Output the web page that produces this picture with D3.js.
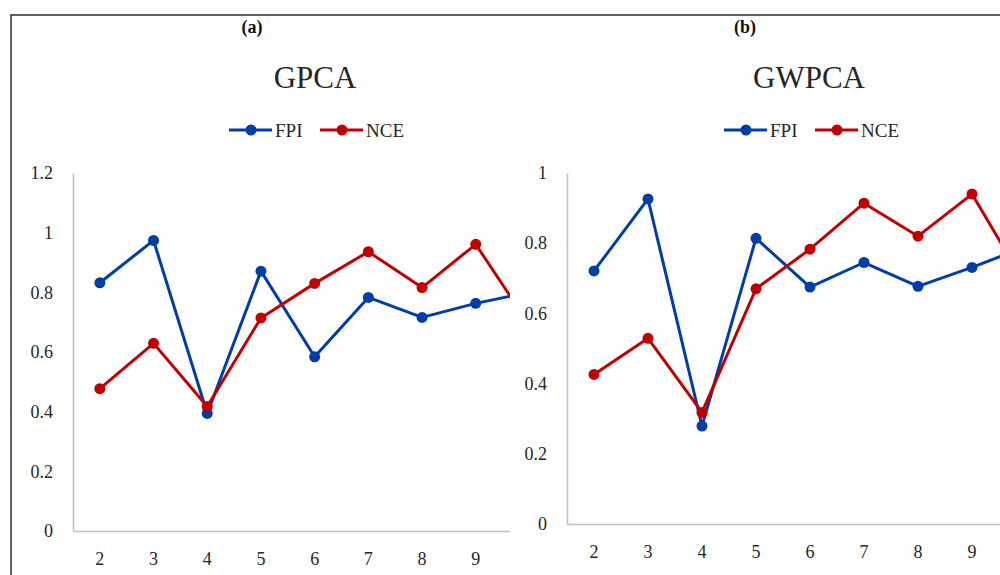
<!DOCTYPE html>
<html>
<head>
<meta charset="utf-8">
<script src="https://cdn.jsdelivr.net/npm/d3@7"></script>
<style>
  html, body { margin: 0; padding: 0; background: #fff; }
  svg { display: block; }
  text { font-family: "Liberation Serif", "DejaVu Serif", serif; fill: #262626; }
</style>
</head>
<body>
<svg id="chart" width="1000" height="575"></svg>
<script>
// ---- data ----
const categories = ["2", "3", "4", "5", "6", "7", "8", "9", "10"];
const seriesNames = ["FPI", "NCE"];
const gpcaFPI = [0.832, 0.974, 0.394, 0.871, 0.584, 0.783, 0.716, 0.763, 0.80];
const gpcaNCE = [0.477, 0.629, 0.417, 0.714, 0.830, 0.936, 0.816, 0.961, 0.69];
const gwpcaFPI = [0.721, 0.926, 0.279, 0.814, 0.675, 0.745, 0.677, 0.731, 0.79];
const gwpcaNCE = [0.426, 0.529, 0.318, 0.670, 0.783, 0.914, 0.820, 0.940, 0.68];
const gpcaTicks = [0, 0.2, 0.4, 0.6, 0.8, 1.0, 1.2];
const gwpcaTicks = [0, 0.2, 0.4, 0.6, 0.8, 1.0];
const panelLabels = ["(a)", "(b)"];
const panelTitles = ["GPCA", "GWPCA"];

const colors = { FPI: "#003da5", NCE: "#c00000" };

const svg = d3.select("#chart");

// outer frame
svg.append("rect")
  .attr("x", 11).attr("y", 15)
  .attr("width", 1100).attr("height", 700)
  .attr("fill", "none").attr("stroke", "#3a3a3a").attr("stroke-width", 1.6);

const panels = [
  { label: panelLabels[0], title: panelTitles[0], labelX: 252, titleX: 315, legendX: 229,
    x0: 73, step: 53.7, y0: 531, yTop: 173, yMax: 1.2, ticks: gpcaTicks,
    data: { FPI: gpcaFPI, NCE: gpcaNCE }, clip: [0, 510] },
  { label: panelLabels[1], title: panelTitles[1], labelX: 745, titleX: 809, legendX: 724,
    x0: 567, step: 54, y0: 524, yTop: 173, yMax: 1.0, ticks: gwpcaTicks,
    data: { FPI: gwpcaFPI, NCE: gwpcaNCE }, clip: [510, 1000] }
];

const fmt = v => String(+v.toFixed(1));

panels.forEach((p, i) => {
  const clipId = "clip" + i;
  svg.append("clipPath").attr("id", clipId)
    .append("rect").attr("x", p.clip[0]).attr("y", 0)
    .attr("width", p.clip[1] - p.clip[0]).attr("height", 575);

  const g = svg.append("g").attr("clip-path", `url(#${clipId})`);

  // panel label
  g.append("text").attr("x", p.labelX).attr("y", 33)
    .attr("text-anchor", "middle").attr("font-weight", "bold")
    .attr("font-size", 18).style("fill", "#111").text(p.label);

  // title
  g.append("text").attr("x", p.titleX).attr("y", 88)
    .attr("text-anchor", "middle").attr("font-size", 31).text(p.title);

  // legend
  let lx = p.legendX;
  seriesNames.forEach((s, k) => {
    const lg = g.append("g");
    lg.append("line").attr("x1", lx).attr("x2", lx + 43).attr("y1", 130).attr("y2", 130)
      .attr("stroke", colors[s]).attr("stroke-width", 3);
    lg.append("circle").attr("cx", lx + 22).attr("cy", 130).attr("r", 5.5).attr("fill", colors[s]);
    lg.append("text").attr("x", lx + 46).attr("y", 137).attr("font-size", 19).text(s);
    lx += 91;
  });

  const x = d3.scaleBand().domain(categories)
    .range([p.x0, p.x0 + p.step * categories.length]).padding(0);
  const y = d3.scaleLinear().domain([0, p.yMax]).range([p.y0, p.yTop]);
  const cx = c => x(c) + x.bandwidth() / 2;

  // y axis
  const ya = g.append("g").attr("transform", `translate(${p.x0},0)`)
    .call(d3.axisLeft(y).tickValues(p.ticks).tickFormat(fmt).tickSize(0).tickPadding(20));
  ya.select(".domain").attr("stroke", "#bfbfbf").attr("stroke-width", 1.6);
  ya.selectAll("text").attr("font-size", 18).attr("font-family", "Liberation Serif").style("fill", "#262626");

  // x axis: only label categories whose label lies inside the visible panel
  const visibleCats = categories.filter(c => cx(c) + 12 < p.clip[1]);
  const xa = g.append("g").attr("transform", `translate(0,${p.y0})`)
    .call(d3.axisBottom(x).tickValues(visibleCats).tickSize(0).tickPadding(21));
  xa.select(".domain").attr("stroke", "#bfbfbf").attr("stroke-width", 1.6);
  xa.selectAll("text").attr("font-size", 18).attr("font-family", "Liberation Serif").style("fill", "#262626");

  // series
  seriesNames.forEach(s => {
    const vals = p.data[s];
    const pts = categories.map((c, j) => [cx(c), y(vals[j])]);
    g.append("path").datum(pts)
      .attr("d", d3.line())
      .attr("fill", "none").attr("stroke", colors[s]).attr("stroke-width", 3)
      .attr("stroke-linejoin", "round");
    g.selectAll(null).data(pts).enter().append("circle")
      .attr("cx", d => d[0]).attr("cy", d => d[1]).attr("r", 5.5)
      .attr("fill", colors[s]);
  });
});
</script>
</body>
</html>
